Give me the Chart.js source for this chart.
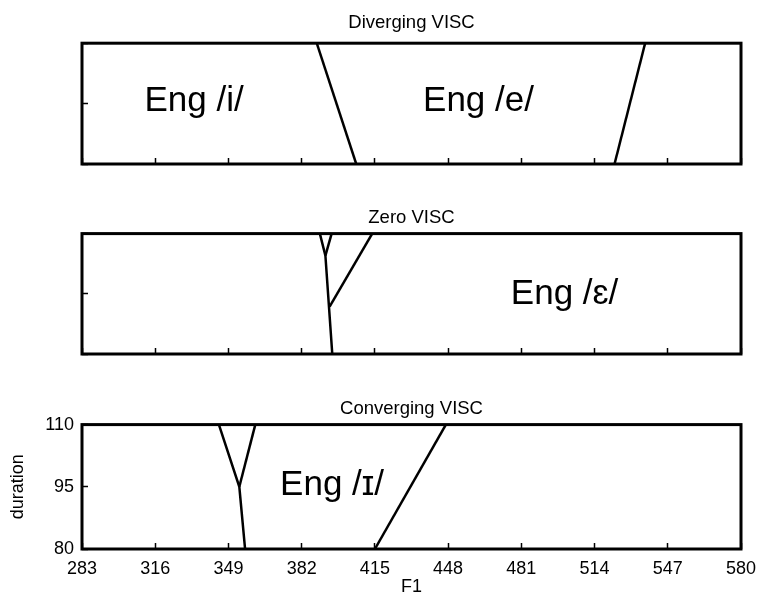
<!DOCTYPE html>
<html>
<head>
<meta charset="utf-8">
<script src="https://cdn.jsdelivr.net/npm/chart.js@4.4.1/dist/chart.umd.min.js"></script>
<style>
  html, body { margin: 0; padding: 0; background: #fff; }
  body { width: 760px; height: 599px; position: relative; overflow: hidden; }
  canvas { position: absolute; left: 0; }
</style>
</head>
<body>
<canvas id="diverging" width="760" height="170" style="top:0px"></canvas>
<canvas id="zero" width="760" height="170" style="top:190px"></canvas>
<canvas id="converging" width="760" height="219" style="top:380px"></canvas>
<script>
const FONT = '"Liberation Sans", Arial, Helvetica, sans-serif';

// Axis ticks
const f1Ticks = [283, 316, 349, 382, 415, 448, 481, 514, 547, 580];
const durationTicks = [80, 95, 110];

// Category boundaries, as [F1, duration] points
// Diverging VISC
const divIBoundary = [[388.8, 110], [406.6, 80]];
const divEBoundary = [[536.8, 110], [523.0, 80]];
// Zero VISC
const zeroMainBoundary = [[390.2, 110], [392.7, 104.5], [395.8, 80]];
const zeroForkBoundary = [[395.5, 110], [392.7, 104.5]];
const zeroEpsBoundary = [[394.6, 91.8], [413.8, 110]];
// Converging VISC
const convMainBoundary = [[344.7, 110], [353.9, 95], [356.5, 80]];
const convForkBoundary = [[361.1, 110], [353.9, 95]];
const convIBoundary = [[415.0, 80], [447.0, 110]];

// Category names and their anchor points (F1, duration)
const divLabels = ['Eng /i/', 'Eng /e/'];
const divLabelF1 = [333.5, 461.7];
const divLabelDur = [95.5, 95.5];
const zeroLabels = ['Eng /\u025B/'];
const zeroLabelF1 = [500.5];
const zeroLabelDur = [94.8];
const convLabels = ['Eng /\u026A/'];
const convLabelF1 = [395.7];
const convLabelDur = [95.4];

// Draws the full box round the plot area
const framePlugin = {
  id: 'frame',
  afterDraw(chart) {
    const { ctx, chartArea: a } = chart;
    ctx.save();
    ctx.strokeStyle = '#000';
    ctx.lineWidth = 3;
    ctx.strokeRect(a.left, a.top, a.right - a.left, a.bottom - a.top);
    ctx.restore();
  }
};

// Writes the category names inside their regions
const regionLabelPlugin = {
  id: 'regionLabels',
  afterDatasetsDraw(chart, args, opts) {
    const { ctx, scales } = chart;
    ctx.save();
    ctx.fillStyle = '#000';
    ctx.font = '35px ' + FONT;
    ctx.textAlign = 'center';
    ctx.textBaseline = 'middle';
    opts.texts.forEach((t, i) => {
      ctx.fillText(t, scales.x.getPixelForValue(opts.f1[i]), scales.y.getPixelForValue(opts.dur[i]));
    });
    ctx.restore();
  }
};

function boundaryDataset(points) {
  return {
    data: points.map(p => ({ x: p[0], y: p[1] })),
    showLine: true,
    borderColor: '#000',
    borderWidth: 2.5,
    pointRadius: 0,
    tension: 0,
    fill: false
  };
}

function makePanel(id, title, titlePad, boundaries, texts, f1, dur, withAxes, axisHeight) {
  const tickFont = { family: FONT, size: 18 };
  return new Chart(document.getElementById(id), {
    type: 'scatter',
    data: { datasets: boundaries.map(boundaryDataset) },
    options: {
      responsive: false,
      animation: false,
      devicePixelRatio: 1,
      layout: { padding: { left: 0, right: 19, top: 0, bottom: 0 } },
      plugins: {
        legend: { display: false },
        tooltip: { enabled: false },
        title: {
          display: true,
          text: title,
          fullSize: false,
          color: '#000',
          font: { family: FONT, size: 18.5, weight: 'normal' },
          padding: titlePad
        },
        regionLabels: { texts, f1, dur }
      },
      scales: {
        x: {
          type: 'linear',
          min: 283,
          max: 580,
          afterBuildTicks: s => { s.ticks = f1Ticks.map(v => ({ value: v })); },
          afterFit: s => { s.height = axisHeight; s.paddingLeft = 0; s.paddingRight = 0; },
          border: { display: false },
          grid: { drawOnChartArea: false, drawTicks: true, tickLength: -6, tickWidth: 1.5, tickColor: '#000' },
          ticks: { display: withAxes, color: '#000', font: tickFont, padding: 15, autoSkip: false, maxRotation: 0 },
          title: { display: withAxes, text: 'F1', color: '#000', font: tickFont, padding: { top: 0, bottom: 1 } }
        },
        y: {
          type: 'linear',
          min: 80,
          max: 110,
          afterBuildTicks: s => { s.ticks = durationTicks.map(v => ({ value: v })); },
          afterFit: s => { s.width = 82; s.paddingTop = 0; s.paddingBottom = 0; },
          border: { display: false },
          grid: { drawOnChartArea: false, drawTicks: true, tickLength: -6, tickWidth: 1.5, tickColor: '#000' },
          ticks: { display: withAxes, color: '#000', font: tickFont, padding: 14 },
          title: { display: withAxes, text: 'duration', color: '#000', font: tickFont, padding: { top: 7, bottom: 0 } }
        }
      }
    },
    plugins: [framePlugin, regionLabelPlugin]
  });
}

makePanel('diverging', 'Diverging VISC', { top: 12, bottom: 9 },
  [divIBoundary, divEBoundary], divLabels, divLabelF1, divLabelDur, false, 6);
makePanel('zero', 'Zero VISC', { top: 17, bottom: 4.4 },
  [zeroMainBoundary, zeroForkBoundary, zeroEpsBoundary], zeroLabels, zeroLabelF1, zeroLabelDur, false, 6);
makePanel('converging', 'Converging VISC', { top: 18, bottom: 4.4 },
  [convMainBoundary, convForkBoundary, convIBoundary], convLabels, convLabelF1, convLabelDur, true, 50);
</script>
</body>
</html>
